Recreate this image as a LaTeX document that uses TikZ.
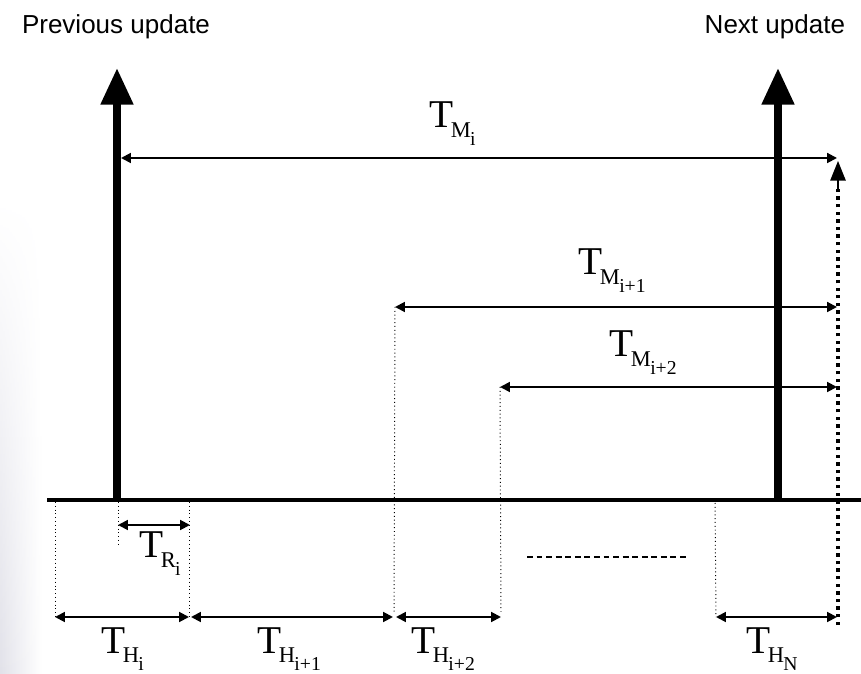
\documentclass[tikz,border=0pt]{standalone}
\usepackage{fontspec}
\setmainfont{Liberation Serif}
\setsansfont{Liberation Sans}
\usetikzlibrary{arrows.meta, fadings}

% T with a two-level subscript
\newcommand{\tsym}[2]{T\kern-1.5pt\raisebox{-7pt}{\fontsize{16}{18}\selectfont #1\kern-0.5pt\raisebox{-5.5pt}{\fontsize{14}{16}\selectfont #2}}}

\begin{document}
\begin{tikzpicture}[x=0.025cm, y=-0.025cm,
    every node/.style={inner sep=0pt, outer sep=0pt},
    title/.style={font=\sffamily\fontsize{18.5}{22}\selectfont},
    lbl/.style={font=\fontsize{28}{32}\selectfont, anchor=base west},
    update/.style={-{Triangle[length=26pt, width=22pt]}, line width=5.6pt},
    span/.style={{Triangle[length=7pt, width=7pt]}-{Triangle[length=7pt, width=7pt]}, line width=1.4pt},
    guide/.style={dotted, line width=0.7pt},
    limit/.style={line width=2.2pt, dash pattern=on 2.4pt off 3pt},
]
\useasboundingbox (0,0) rectangle (861,674);
\shade[left color=blue!15!gray!20, right color=white, path fading=north] (0,200) rectangle (42,674);

% time axis and the two updates
\coordinate (axisL) at (47,500);
\coordinate (axisR) at (861,500);
\coordinate (prevBase) at (117,500);
\coordinate (prevTop) at (117,68);
\coordinate (nextBase) at (778,500);
\coordinate (nextTop) at (778,68);
\draw[line width=2.8pt] (axisL) -- (axisR);
\draw[update] (prevBase) -- (prevTop);
\draw[update] (nextBase) -- (nextTop);

\node[title, anchor=base west] (prevlbl) at (22,34) {Previous update};
\node[title, anchor=base east] (nextlbl) at (845,34) {Next update};

% end of the interval
\coordinate (endBot) at (838,625);
\coordinate (endTop) at (838,161);
\draw[limit] (endBot) -- ([yshift=-20]endTop);
\draw[-{Triangle[length=14pt, width=11pt]}, line width=1pt] ([yshift=-20]endTop) -- (endTop);

% M spans
\coordinate (mi0L) at (121,158);
\coordinate (mi0R) at (837,158);
\coordinate (mi1L) at (395,307);
\coordinate (mi1R) at (837,307);
\coordinate (mi2L) at (500,387);
\coordinate (mi2R) at (837,387);
\draw[span] (mi0L) -- (mi0R);
\draw[span] (mi1L) -- (mi1R);
\draw[span] (mi2L) -- (mi2R);
\node[lbl] (tmi0) at (429,128) {\tsym{M}{i}};
\node[lbl] (tmi1) at (578,275) {\tsym{M}{i+1}};
\node[lbl] (tmi2) at (609,357) {\tsym{M}{i+2}};

% H spans
\coordinate (h0L) at (55,617);
\coordinate (h0R) at (189,617);
\coordinate (h1L) at (191,617);
\coordinate (h1R) at (393,617);
\coordinate (h2L) at (396,617);
\coordinate (h2R) at (501,617);
\coordinate (hnL) at (716,617);
\coordinate (hnR) at (837,617);
\draw[span] (h0L) -- (h0R);
\draw[span] (h1L) -- (h1R);
\draw[span] (h2L) -- (h2R);
\draw[span] (hnL) -- (hnR);
\node[lbl] (th0) at (101,653) {\tsym{H}{i}};
\node[lbl] (th1) at (257,653) {\tsym{H}{i+1}};
\node[lbl] (th2) at (411,653) {\tsym{H}{i+2}};
\node[lbl] (thn) at (746,653) {\tsym{H}{N}};

% R span
\coordinate (riL) at (118,525);
\coordinate (riR) at (190,525);
\draw[span] (riL) -- (riR);
\node[lbl] (tri) at (139,558) {\tsym{R}{i}};

% dotted guides
\draw[guide] (55,502) -- (h0L);
\draw[guide] (118,502) -- (118,546);
\draw[guide] (189,502) -- (h0R);
\draw[guide] (mi1L) -- (394,612);
\draw[guide] (mi2L) -- (501,612);
\draw[guide] (715,503) -- (hnL);

% more intervals
\coordinate (dashL) at (527,557);
\coordinate (dashR) at (688,557);
\draw[line width=1.4pt, dash pattern=on 4.2pt off 2.6pt] (dashL) -- (dashR);
\end{tikzpicture}
\end{document}
